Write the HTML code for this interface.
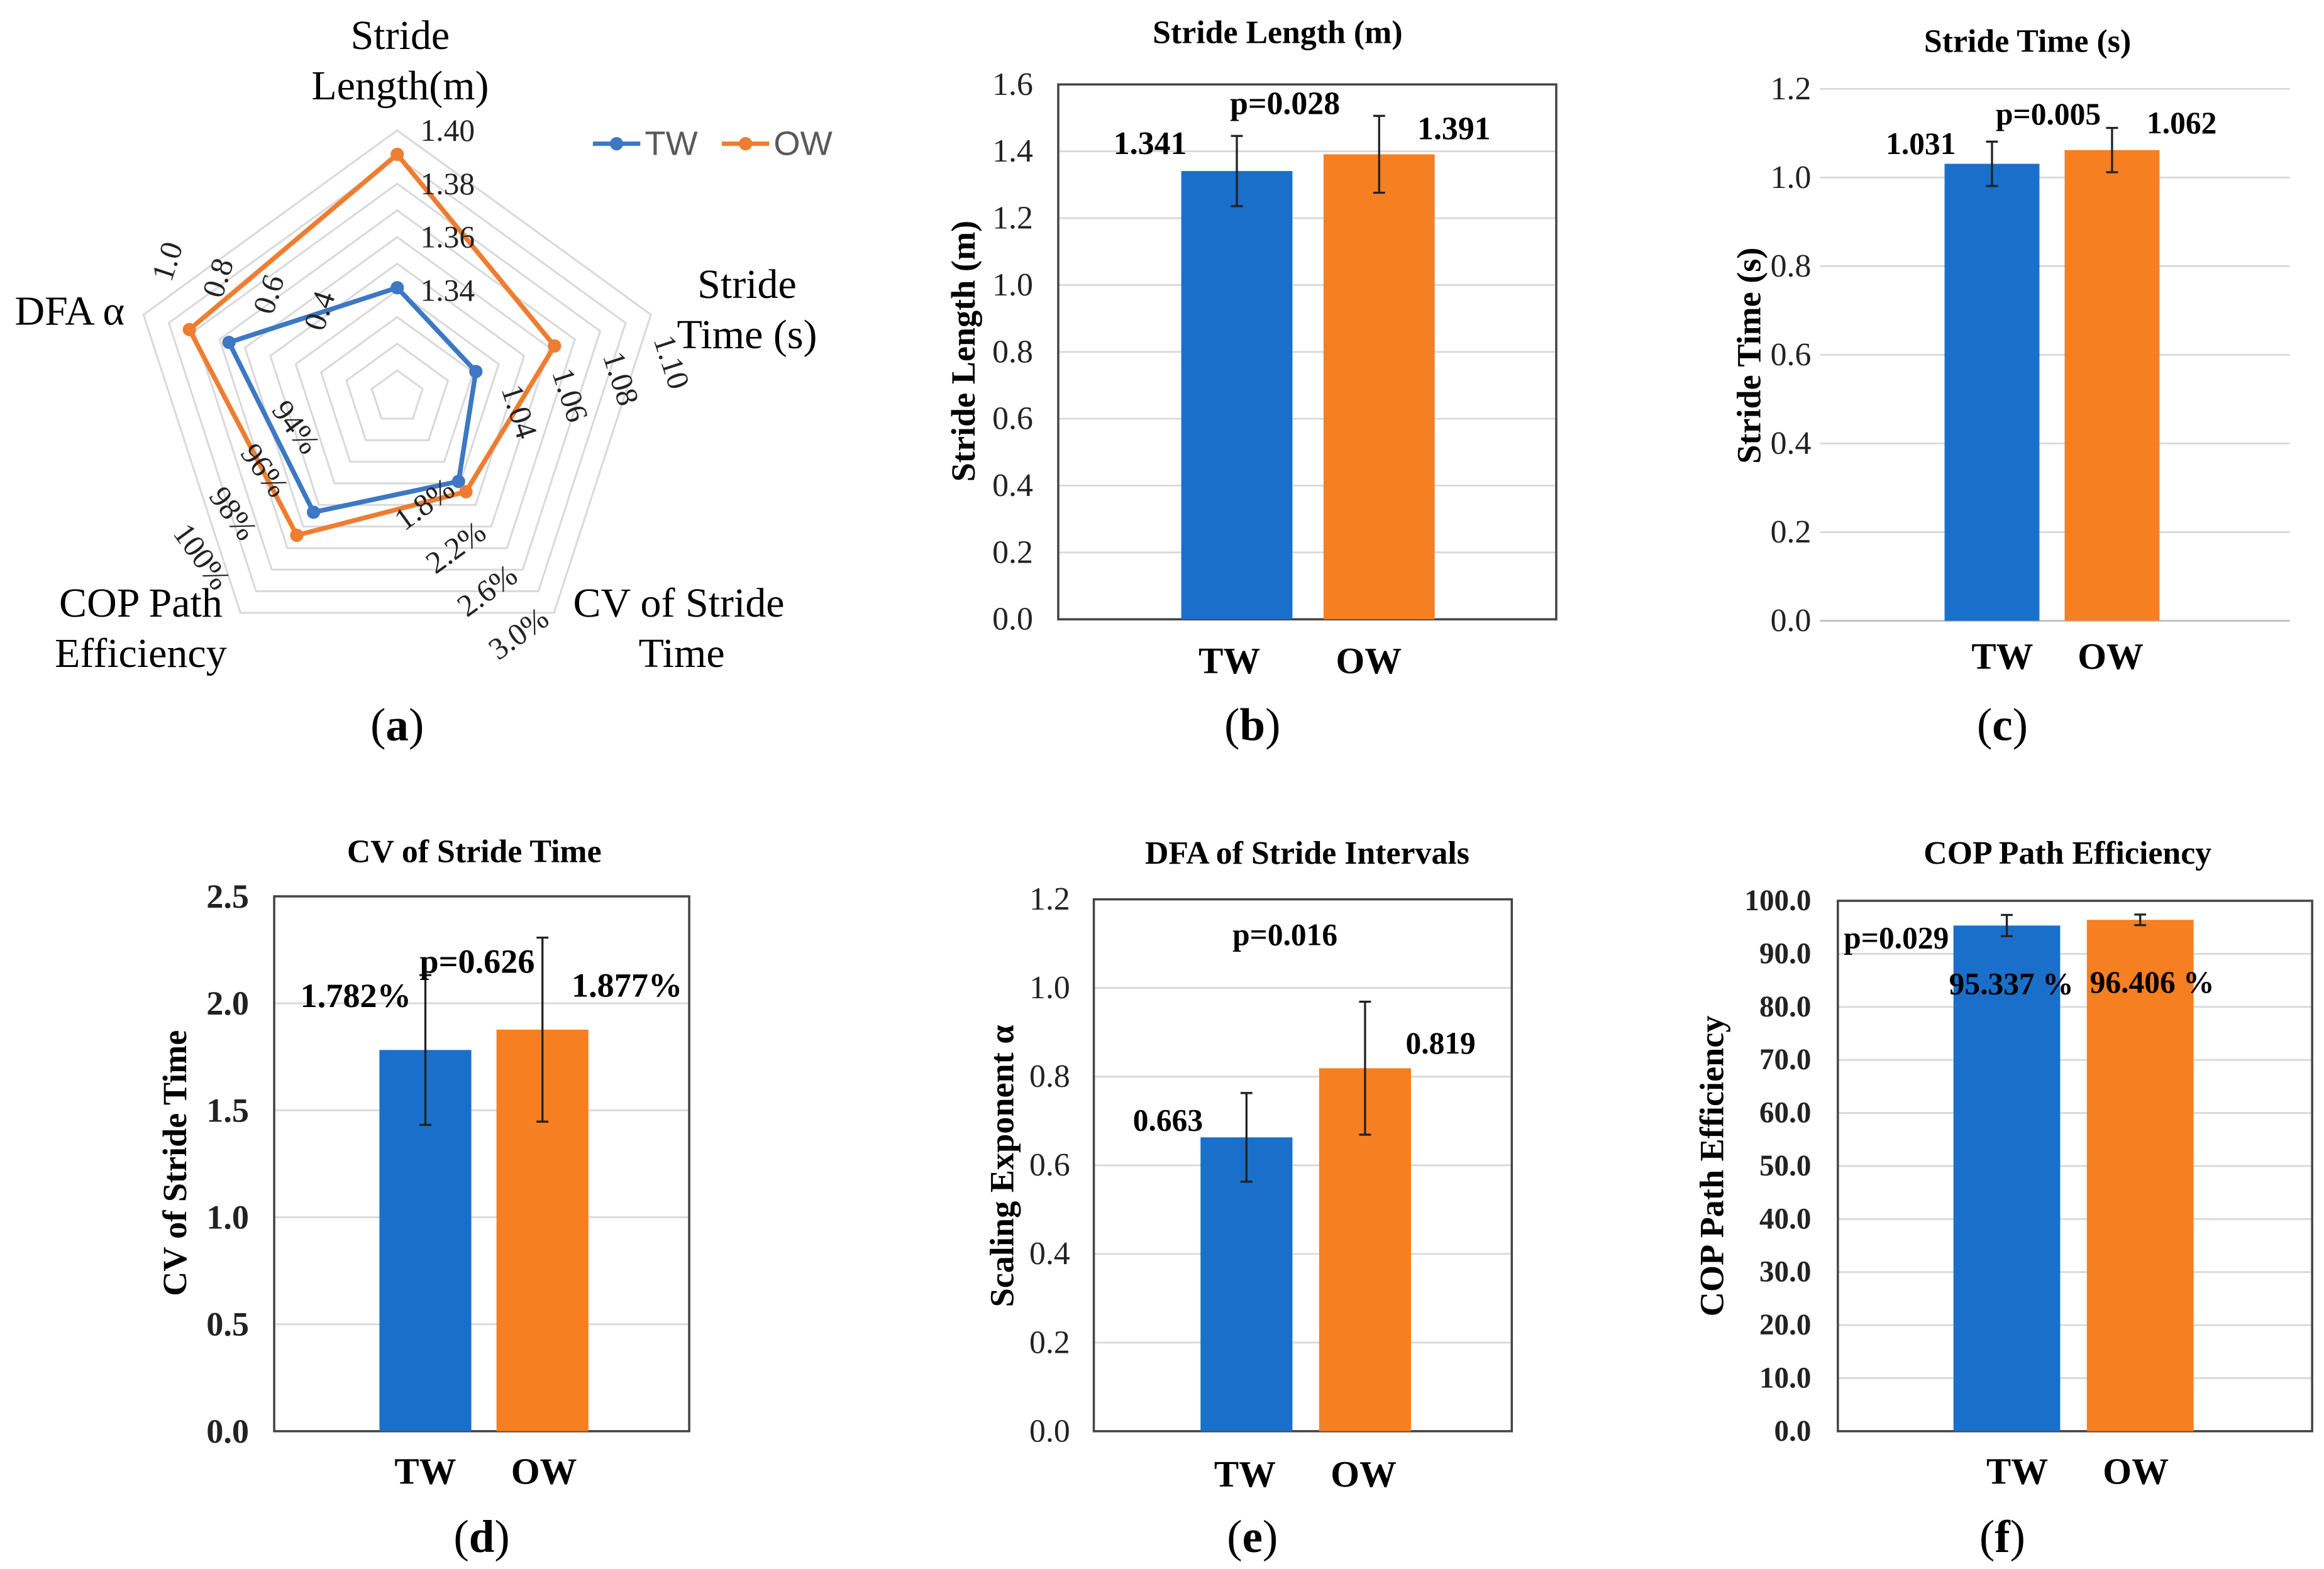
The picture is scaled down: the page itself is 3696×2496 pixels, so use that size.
<!DOCTYPE html>
<html><head><meta charset="utf-8">
<style>
html,body{margin:0;padding:0;background:#fff;}
svg{display:block;}
text{font-family:"Liberation Serif",serif;fill:#000;}
</style></head>
<body>
<svg id="fig" width="3696" height="2496" viewBox="0 0 1568 1059" preserveAspectRatio="none" xmlns="http://www.w3.org/2000/svg"></svg>
<script>
// ---------- data ----------
const categories = ["TW", "OW"];
const strideLengthMeans = [1.341, 1.391];
const strideLengthErr = [0.105, 0.115];
const strideTimeMeans = [1.031, 1.062];
const strideTimeErr = [0.05, 0.05];
const cvMeans = [1.782, 1.877];
const cvErr = [0.35, 0.43];
const dfaMeans = [0.663, 0.819];
const dfaErr = [0.10, 0.15];
const copMeans = [95.337, 96.406];
const copErr = [2.0, 1.0];

const ticksSL = ["0.0","0.2","0.4","0.6","0.8","1.0","1.2","1.4","1.6"];
const ticksST = ["0.0","0.2","0.4","0.6","0.8","1.0","1.2"];
const ticksCV = ["0.0","0.5","1.0","1.5","2.0","2.5"];
const ticksDFA = ["0.0","0.2","0.4","0.6","0.8","1.0","1.2"];
const ticksCOP = ["0.0","10.0","20.0","30.0","40.0","50.0","60.0","70.0","80.0","90.0","100.0"];

const radarAxes = ["Stride Length(m)", "Stride Time (s)", "CV of Stride Time", "COP Path Efficiency", "DFA α"];
const radarMin = [1.30, 1.00, 1.0, 90, 0.0];
const radarMax = [1.40, 1.10, 3.0, 100, 1.0];
const radarTW = [1.341, 1.031, 1.782, 95.337, 0.663];
const radarOW = [1.391, 1.062, 1.877, 96.406, 0.819];
const radarTickSL = ["1.34","1.36","1.38","1.40"];
const radarTickST = ["1.04","1.06","1.08","1.10"];
const radarTickCV = ["1.8%","2.2%","2.6%","3.0%"];
const radarTickCOP = ["94%","96%","98%","100%"];
const radarTickDFA = ["0.4","0.6","0.8","1.0"];

// ---------- helpers ----------
const NS = "http://www.w3.org/2000/svg";
const svg = document.getElementById("fig");
function mk(tag, attrs, parent) {
  const e = document.createElementNS(NS, tag);
  for (const k in attrs) e.setAttribute(k, attrs[k]);
  (parent || svg).appendChild(e);
  return e;
}
function txt(s, x, y, size, opts, parent) {
  opts = opts || {};
  const t = mk("text", {x: x, y: y, "font-size": size, "text-anchor": opts.anchor || "middle",
    "font-weight": opts.bold ? "bold" : "normal", "dominant-baseline": "central"}, parent);
  if (opts.rot !== undefined) t.setAttribute("transform", "rotate(" + opts.rot + " " + x + " " + y + ")");
  if (opts.fill) t.style.fill = opts.fill;
  if (opts.family) t.style.fontFamily = opts.family;
  t.textContent = s;
  return t;
}

// ---------- radar ----------
(function () {
  const g = mk("g", {});
  
  
  const cx = 268, cy = 268, R = 180;
  const ang = i => i * 72 * Math.PI / 180;
  const pt = (i, r) => [cx + r * Math.sin(ang(i)), cy - r * Math.cos(ang(i))];
  for (let k = 1; k <= 10; k++) {
    const pts = [0,1,2,3,4].map(i => pt(i, R * k / 10).join(",")).join(" ");
    const ring = mk("polygon", {points: pts, fill: "none", stroke: "#d9d9d9", "stroke-width": 1.3}, g);
    
    
  }
  const rOf = (i, v) => (v - radarMin[i]) / (radarMax[i] - radarMin[i]) * R;
  function series(vals, color, name) {
    const pts = vals.map((v, i) => pt(i, rOf(i, v)));
    const poly = mk("polygon", {points: pts.map(p => p.join(",")).join(" "), fill: "none", stroke: color, "stroke-width": 3.2, "stroke-linejoin": "round"}, g);
    
    
    pts.forEach(p => {
      const c = mk("circle", {cx: p[0], cy: p[1], r: 4.5, fill: color}, g);
      
      
    });
  }
  series(radarTW, "#3c78c4", "tw");
  series(radarOW, "#ee7d31", "ow");
  const tickSets = [radarTickSL, radarTickST, radarTickCV, radarTickCOP, radarTickDFA];
  const offs = [[34, 0], [14, 32], [-24, 14], [-26, -38], [16, -36]];
  const rots = [0, 72, -36, 54, -72];
  tickSets.forEach((set, i) => {
    set.forEach((s, j) => {
      const v = parseFloat(s);
      const p = pt(i, rOf(i, v));
      const t = txt(s, p[0] + offs[i][0], p[1] + offs[i][1], 21, {rot: rots[i], fill: "#222"}, g);
      
      
    });
  });
  const labs = [
    ["Stride", 270, 24, "middle"], ["Length(m)", 270, 58, "middle"],
    ["Stride", 504, 192, "middle"], ["Time (s)", 504, 226, "middle"],
    ["CV of Stride", 458, 407, "middle"], ["Time", 489, 441, "end"],
    ["COP Path", 95, 407, "middle"], ["Efficiency", 95, 441, "middle"],
    ["DFA α", 47, 210, "middle"]
  ];
  labs.forEach(l => {
    const t = txt(l[0], l[1], l[2], 28, {anchor: l[3]}, g);
    
    
  });
  const leg = [["TW", "#3c78c4", 400], ["OW", "#ee7d31", 487]];
  leg.forEach(l => {
    const lg = mk("g", {}, g);
    
    
    mk("line", {x1: l[2], y1: 97, x2: l[2] + 32, y2: 97, stroke: l[1], "stroke-width": 3}, lg);
    mk("circle", {cx: l[2] + 16, cy: 97, r: 4.5, fill: l[1]}, lg);
    txt(l[0], l[2] + 35, 97, 23, {anchor: "start", fill: "#595959", family: '"Liberation Sans", sans-serif'}, lg);
  });
})();

// ---------- bar charts ----------
function barChart(cfg) {
  const g = mk("g", {});
  
  
  const ticks = cfg.ticks;
  const vmin = parseFloat(ticks[0]), vmax = parseFloat(ticks[ticks.length - 1]);
  const y = v => cfg.y1 - (v - vmin) / (vmax - vmin) * (cfg.y1 - cfg.y0);
  ticks.forEach(s => {
    const yy = y(parseFloat(s));
    if (parseFloat(s) > vmin) {
      const gl = mk("line", {x1: cfg.x0, x2: cfg.x1, y1: yy, y2: yy, stroke: "#d9d9d9", "stroke-width": 1.2}, g);
      
      
    }
    const t = txt(s, cfg.tickX, yy, cfg.tickSize, {anchor: "end", bold: cfg.tickBold, fill: "#222"}, g);
    
    
  });
  if (cfg.frame) {
    const fr = mk("rect", {x: cfg.x0, y: cfg.y0, width: cfg.x1 - cfg.x0, height: cfg.y1 - cfg.y0, fill: "none", stroke: "#444", "stroke-width": 1.5}, g);
    
    
  } else {
    const ax = mk("line", {x1: cfg.x0, x2: cfg.x1, y1: cfg.y1, y2: cfg.y1, stroke: "#bfbfbf", "stroke-width": 1.2}, g);
    
    
  }
  const colors = ["#1a6fca", "#f67f21"];
  categories.forEach((c, i) => {
    const xc = cfg.centers[i], v = cfg.means[i], e = cfg.err[i];
    const b = mk("rect", {x: xc - cfg.bw / 2, y: y(v), width: cfg.bw, height: cfg.y1 - y(v), fill: colors[i]}, g);
    
    
    const eb = mk("path", {d: "M" + xc + "," + y(v + e) + "V" + y(v - e) + "M" + (xc - 4) + "," + y(v + e) + "h8M" + (xc - 4) + "," + y(v - e) + "h8", stroke: "#222", "stroke-width": 1.4, fill: "none"}, g);
    
    
    const cl = txt(c, xc + cfg.catDx[i], cfg.catY, 25, {bold: true}, g);
    
    
    const vl = txt(cfg.valLabels[i], cfg.valPos[i][0], cfg.valPos[i][1], cfg.valSize, {bold: true}, g);
    
    
  });
  const p = txt(cfg.p, cfg.pPos[0], cfg.pPos[1], cfg.valSize, {bold: true, anchor: cfg.pAnchor || "middle"}, g);
  
  
  const ti = txt(cfg.title, cfg.titlePos[0], cfg.titlePos[1], 22, {bold: true}, g);
  
  
  const yt = txt(cfg.ytitle, cfg.ytPos[0], cfg.ytPos[1], 23, {bold: true, rot: -90}, g);
  
  
  const pl = mk("text", {x: cfg.panel[0], y: cfg.panel[1], "font-size": 31, "text-anchor": "middle", "dominant-baseline": "central"}, g);
  pl.innerHTML = '(<tspan font-weight="bold">' + cfg.panel[2] + '</tspan>)';
  
  
}

barChart({name: "stride-length-chart", ticks: ticksSL, means: strideLengthMeans, err: strideLengthErr,
  x0: 714, x1: 1050, y0: 57, y1: 418, tickX: 697, tickSize: 22, frame: true,
  centers: [834.5, 930.5], bw: 75, catDx: [-5, -7], catY: 446,
  valLabels: ["1.341", "1.391"], valPos: [[776, 97], [981, 87]], valSize: 22,
  p: "p=0.028", pPos: [867, 70], title: "Stride Length (m)", titlePos: [862, 22],
  ytitle: "Stride Length (m)", ytPos: [650, 237], panel: [845, 489, "b"]});

barChart({name: "stride-time-chart", ticks: ticksST, means: strideTimeMeans, err: strideTimeErr,
  x0: 1228, x1: 1545, y0: 60, y1: 419, tickX: 1222, tickSize: 22, frame: false,
  centers: [1344, 1425], bw: 64, catDx: [7, -1], catY: 443,
  valLabels: ["1.031", "1.062"], valPos: [[1296, 97], [1472, 83]], valSize: 21,
  p: "p=0.005", pPos: [1382, 77], title: "Stride Time (s)", titlePos: [1368, 28],
  ytitle: "Stride Time (s)", ytPos: [1180, 240], panel: [1351, 489, "c"]});

barChart({name: "cv-stride-time-chart", ticks: ticksCV, means: cvMeans, err: cvErr,
  x0: 185, x1: 465, y0: 605, y1: 966, tickX: 168, tickSize: 23, tickBold: true, frame: true,
  centers: [287, 366], bw: 62, catDx: [0, 1], catY: 993,
  valLabels: ["1.782%", "1.877%"], valPos: [[240, 672], [423, 665]], valSize: 23,
  p: "p=0.626", pPos: [322, 649], title: "CV of Stride Time", titlePos: [320, 575],
  ytitle: "CV of Stride Time", ytPos: [118, 785], panel: [325, 1037, "d"]});

barChart({name: "dfa-chart", ticks: ticksDFA, means: dfaMeans, err: dfaErr,
  x0: 738, x1: 1020, y0: 607, y1: 966, tickX: 722, tickSize: 22, frame: true,
  centers: [841, 921], bw: 62, catDx: [-1, -1], catY: 995,
  valLabels: ["0.663", "0.819"], valPos: [[788, 756], [972, 704]], valSize: 21,
  p: "p=0.016", pPos: [867, 631], title: "DFA of Stride Intervals", titlePos: [882, 576],
  ytitle: "Scaling Exponent α", ytPos: [676, 787], panel: [845, 1037, "e"]});

barChart({name: "cop-efficiency-chart", ticks: ticksCOP, means: copMeans, err: copErr,
  x0: 1240, x1: 1560, y0: 608, y1: 966, tickX: 1222, tickSize: 20, tickBold: true, frame: true,
  centers: [1354, 1444], bw: 72, catDx: [7, -3], catY: 993,
  valLabels: ["95.337 %", "96.406 %"], valPos: [[1357, 664], [1452, 663]], valSize: 21,
  p: "p=0.029", pPos: [1244, 633], pAnchor: "start", title: "COP Path Efficiency", titlePos: [1395, 576],
  ytitle: "COP Path Efficiency", ytPos: [1155, 787], panel: [1351, 1037, "f"]});

const pa = mk("text", {x: 268, y: 489, "font-size": 31, "text-anchor": "middle", "dominant-baseline": "central"});
pa.innerHTML = '(<tspan font-weight="bold">a</tspan>)';


</script>
</body></html>
